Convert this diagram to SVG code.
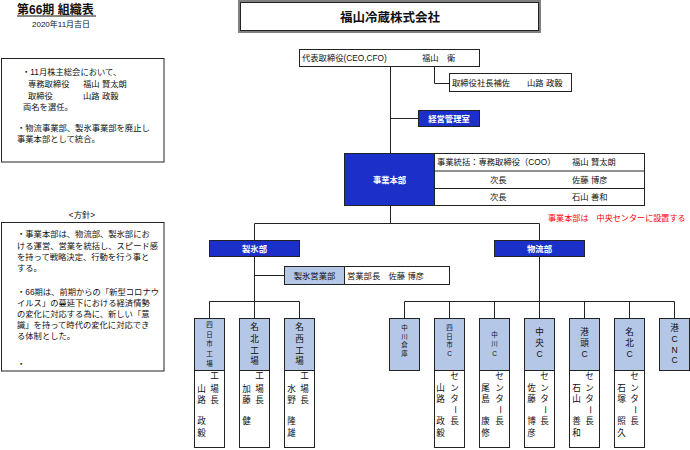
<svg xmlns="http://www.w3.org/2000/svg" width="690" height="450" viewBox="0 0 690 450">
<style>
text{font-family:"Liberation Sans","Noto Sans CJK JP",sans-serif;fill:#111;}
.t{font-size:8.3px;}
.s{font-size:8px;}
.w{font-size:8.3px;fill:#fff;font-weight:bold;text-anchor:middle;}
.bx{fill:#fff;stroke:#222;stroke-width:1;}
.blue{fill:#1B30C9;stroke:#222;stroke-width:1;}
.lb{fill:#B4C7E7;stroke:#222;stroke-width:1;}
.vs{font-size:6.5px;text-anchor:middle;dominant-baseline:central;}
.vl{font-size:8.6px;text-anchor:middle;dominant-baseline:central;}
.vb{font-size:8.6px;text-anchor:middle;dominant-baseline:central;}
.cn line,.cn polyline{stroke:#222;stroke-width:1;fill:none;}
</style>
<rect width="690" height="450" fill="#fff"/>

<g id="title">
<text x="17" y="14" style="font-size:12px;font-weight:bold">第66期 組織表</text>
<line x1="17" y1="16" x2="96" y2="16" stroke="#111" stroke-width="1"/>
<text x="32" y="27" class="s">2020年11月吉日</text>
</g>

<g id="note1">
<rect x="1.5" y="58.5" width="162.5" height="103.5" class="bx"/>
<text class="t" x="22" y="75">・11月株主総会において、</text>
<text class="t" x="28" y="87">専務取締役</text><text class="t" x="83" y="87">福山 賢太朗</text>
<text class="t" x="28" y="99">取締役</text><text class="t" x="83" y="99">山路 政毅</text>
<text class="t" x="23" y="110">両名を選任。</text>
<text class="t" x="17" y="131">・物流事業部、製氷事業部を廃止し</text>
<text class="t" x="17" y="142">事業本部として統合。</text>
</g>

<g id="policy">
<text class="t" x="82" y="218" text-anchor="middle">&lt;方針&gt;</text>
<rect x="1.5" y="222.5" width="162.5" height="148.5" class="bx"/>
<text class="t" x="17" y="237">・事業本部は、物流部、製氷部にお</text>
<text class="t" x="17" y="249">ける運営、営業を統括し、スピード感</text>
<text class="t" x="17" y="260">を持って戦略決定、行動を行う事と</text>
<text class="t" x="17" y="271">する。</text>
<text class="t" x="17" y="295">・66期は、前期からの「新型コロナウ</text>
<text class="t" x="17" y="306">イルス」の蔓延下における経済情勢</text>
<text class="t" x="17" y="317">の変化に対応する為に、新しい「意</text>
<text class="t" x="17" y="328">識」を持って時代の変化に対応でき</text>
<text class="t" x="17" y="339">る体制とした。</text>
<text class="t" x="17" y="367">・</text>
</g>

<g id="company">
<rect x="239" y="1" width="301" height="31" fill="#fff" stroke="#808080" stroke-width="2"/>
<rect x="240.5" y="2.5" width="298" height="28" fill="none" stroke="#222" stroke-width="1"/>
<text x="390" y="22" text-anchor="middle" style="font-size:12.5px;font-weight:bold">福山冷蔵株式会社</text>
</g>

<g id="connectors" class="cn">
<line x1="390.5" y1="66" x2="390.5" y2="153.5"/>
<polyline points="434.5,66 434.5,83.5 449.5,83.5"/>
<line x1="390.5" y1="118.5" x2="418.5" y2="118.5"/>
<line x1="390.5" y1="205.5" x2="390.5" y2="223.5"/>
<line x1="254.5" y1="223.5" x2="539.5" y2="223.5"/>
<line x1="254.5" y1="223.5" x2="254.5" y2="240.5"/>
<line x1="539.5" y1="223.5" x2="539.5" y2="240.5"/>
<line x1="254.5" y1="256.5" x2="254.5" y2="318.5"/>
<line x1="254.5" y1="275.5" x2="284.5" y2="275.5"/>
<line x1="209.5" y1="301.5" x2="299.5" y2="301.5"/>
<line x1="209.5" y1="301.5" x2="209.5" y2="318.5"/>
<line x1="299.5" y1="301.5" x2="299.5" y2="318.5"/>
<line x1="539.5" y1="256.5" x2="539.5" y2="318.5"/>
<line x1="404.5" y1="301.5" x2="674.5" y2="301.5"/>
<line x1="404.5" y1="301.5" x2="404.5" y2="318.5"/>
<line x1="449.5" y1="301.5" x2="449.5" y2="318.5"/>
<line x1="494.5" y1="301.5" x2="494.5" y2="318.5"/>
<line x1="584.5" y1="301.5" x2="584.5" y2="318.5"/>
<line x1="629.5" y1="301.5" x2="629.5" y2="318.5"/>
<line x1="674.5" y1="301.5" x2="674.5" y2="318.5"/>
</g>

<g id="ceo">
<rect x="299.5" y="49.5" width="180" height="17" class="bx"/>
<text class="t" x="302" y="61">代表取締役(CEO,CFO)</text>
<text class="t" x="422" y="61">福山　衛</text>
</g>

<g id="assistant">
<rect x="449.5" y="73.5" width="122" height="18" class="bx"/>
<text class="t" x="452" y="86">取締役社長補佐</text>
<text class="t" x="527" y="86">山路 政毅</text>
</g>

<g id="keiei">
<rect x="418.5" y="110.5" width="61" height="16" class="blue"/>
<text class="w" x="449" y="121.5">経営管理室</text>
</g>

<g id="jigyo">
<rect x="344.5" y="153.5" width="90" height="52" class="blue"/>
<text class="w" x="389.5" y="182.5">事業本部</text>
<rect x="434.5" y="153.5" width="210" height="52" class="bx"/>
<line x1="434.5" y1="171" x2="644.5" y2="171" stroke="#222"/>
<line x1="434.5" y1="188.5" x2="644.5" y2="188.5" stroke="#222"/>
<text class="t" x="437" y="165">事業統括：専務取締役（COO）</text>
<text class="t" x="572" y="165">福山 賢太朗</text>
<text class="t" x="490" y="183">次長</text>
<text class="t" x="572" y="183">佐藤 博彦</text>
<text class="t" x="490" y="200">次長</text>
<text class="t" x="572" y="200">石山 善和</text>
</g>

<g id="note-red">
<text x="548" y="220.5" style="font-size:8.1px;fill:#FF0000">事業本部は　中央センターに設置する</text>
</g>

<g id="seihyo">
<rect x="209.5" y="240.5" width="90" height="16" class="blue"/>
<text class="w" x="254.5" y="251.5">製氷部</text>
</g>

<g id="butsuryu">
<rect x="494.5" y="240.5" width="90" height="16" class="blue"/>
<text class="w" x="539.5" y="251.5">物流部</text>
</g>

<g id="seihyo-eigyo">
<rect x="284.5" y="266.5" width="60" height="18" class="lb"/>
<rect x="344.5" y="266.5" width="105" height="18" class="bx"/>
<text class="t" x="314.5" y="279" text-anchor="middle">製氷営業部</text>
<text class="t" x="347" y="279">営業部長　佐藤 博彦</text>
</g>

<!-- factories -->
<g id="yokkaichi-kojo">
<rect x="194.5" y="318.5" width="30" height="52" class="lb"/>
<rect x="194.5" y="370.5" width="30" height="77" class="bx"/>
<text class="vs" x="209.5 209.5 209.5 209.5 209.5" y="324 334 343.5 353 363">四日市工場</text>
<text class="vl" x="214.5 214.5 214.5" y="376 388.5 399.5">工場長</text>
<text class="vl" x="201.5 201.5 201.5 201.5" y="388.5 399.5 420.5 432.5">山路政毅</text>
</g>
<g id="meihoku-kojo">
<rect x="239.5" y="318.5" width="30" height="52" class="lb"/>
<rect x="239.5" y="370.5" width="30" height="77" class="bx"/>
<text class="vl" x="254.5 254.5 254.5 254.5" y="327 338.5 350.5 361">名北工場</text>
<text class="vl" x="259.5 259.5 259.5" y="376 388.5 399.5">工場長</text>
<text class="vl" x="246.5 246.5 246.5" y="388.5 399.5 420.5">加藤健</text>
</g>
<g id="meisei-kojo">
<rect x="284.5" y="318.5" width="30" height="52" class="lb"/>
<rect x="284.5" y="370.5" width="30" height="77" class="bx"/>
<text class="vl" x="299.5 299.5 299.5 299.5" y="327 338.5 350.5 361">名西工場</text>
<text class="vl" x="304.5 304.5 304.5" y="376 388.5 399.5">工場長</text>
<text class="vl" x="291.5 291.5 291.5 291.5" y="388.5 399.5 420.5 432.5">水野隆雄</text>
</g>

<!-- logistics -->
<g id="nakagawa-soko">
<rect x="389.5" y="318.5" width="30" height="52" class="lb"/>
<text class="vs" x="404.5 404.5 404.5 404.5" y="327 336.5 344.5 353">中川倉庫</text>
</g>
<g id="yokkaichi-c">
<rect x="434.5" y="318.5" width="30" height="52" class="lb"/>
<rect x="434.5" y="370.5" width="30" height="77" class="bx"/>
<text class="vs" x="449.5 449.5 449.5 449.5" y="327 336.5 344.5 353">四日市C</text>
<text class="vl" x="454.5 454.5 454.5" y="376 388 399">センタ</text>
<text class="vb" x="454.5" y="409.5" transform="rotate(90 454.5 409.5)">ー</text>
<text class="vl" x="454.5" y="420.5">長</text>
<text class="vl" x="440.5 440.5 440.5 440.5" y="388 399 420.5 432.5">山路政毅</text>
</g>
<g id="nakagawa-c">
<rect x="479.5" y="318.5" width="30" height="52" class="lb"/>
<rect x="479.5" y="370.5" width="30" height="77" class="bx"/>
<text class="vs" x="494.5 494.5 494.5" y="334 343.5 353">中川C</text>
<text class="vl" x="499.5 499.5 499.5" y="376 388 399">センタ</text>
<text class="vb" x="499.5" y="409.5" transform="rotate(90 499.5 409.5)">ー</text>
<text class="vl" x="499.5" y="420.5">長</text>
<text class="vl" x="485.5 485.5 485.5 485.5" y="388 399 420.5 432.5">尾島康修</text>
</g>
<g id="chuo-c">
<rect x="524.5" y="318.5" width="30" height="52" class="lb"/>
<rect x="524.5" y="370.5" width="30" height="77" class="bx"/>
<text class="vl" x="539.5 539.5 539.5" y="332 343 353.5">中央C</text>
<text class="vl" x="544.5 544.5 544.5" y="376 388 399">センタ</text>
<text class="vb" x="544.5" y="409.5" transform="rotate(90 544.5 409.5)">ー</text>
<text class="vl" x="544.5" y="420.5">長</text>
<text class="vl" x="531.5 531.5 531.5 531.5" y="388 399 420.5 432.5">佐藤博彦</text>
</g>
<g id="koto-c">
<rect x="569.5" y="318.5" width="30" height="52" class="lb"/>
<rect x="569.5" y="370.5" width="30" height="77" class="bx"/>
<text class="vl" x="584.5 584.5 584.5" y="332 343 353.5">港頭C</text>
<text class="vl" x="589.5 589.5 589.5" y="376 388 399">センタ</text>
<text class="vb" x="589.5" y="409.5" transform="rotate(90 589.5 409.5)">ー</text>
<text class="vl" x="589.5" y="420.5">長</text>
<text class="vl" x="576.5 576.5 576.5 576.5" y="388 399 420.5 432.5">石山善和</text>
</g>
<g id="meihoku-c">
<rect x="614.5" y="318.5" width="30" height="52" class="lb"/>
<rect x="614.5" y="370.5" width="30" height="77" class="bx"/>
<text class="vl" x="629.5 629.5 629.5" y="332 343 353.5">名北C</text>
<text class="vl" x="634.5 634.5 634.5" y="376 388 399">センタ</text>
<text class="vb" x="634.5" y="409.5" transform="rotate(90 634.5 409.5)">ー</text>
<text class="vl" x="634.5" y="420.5">長</text>
<text class="vl" x="621.5 621.5 621.5 621.5" y="388 399 420.5 432.5">石塚照久</text>
</g>
<g id="ko-cnc">
<rect x="659.5" y="318.5" width="30" height="52" class="lb"/>
<text class="vl" x="674.5 674.5 674.5 674.5" y="327.5 338.5 349.5 360">港CNC</text>
</g>
</svg>
